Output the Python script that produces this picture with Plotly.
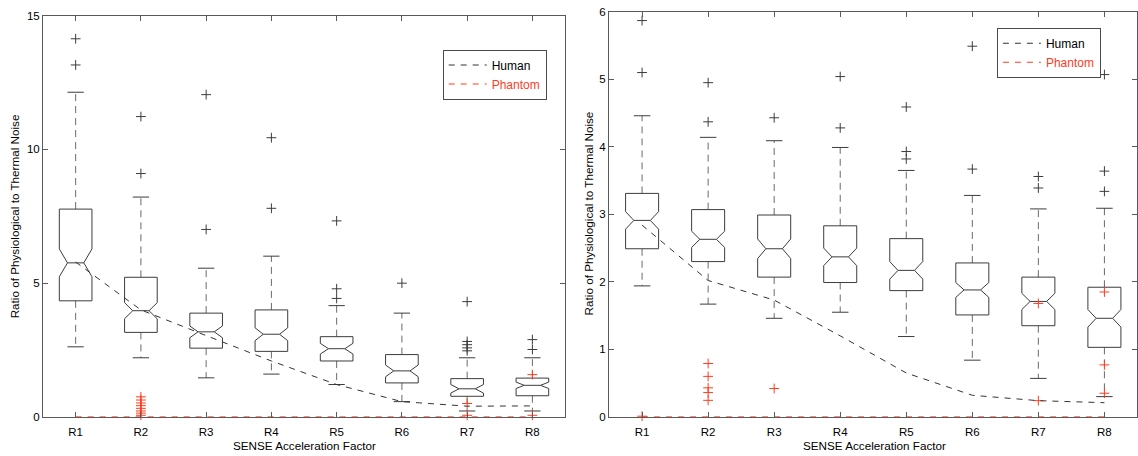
import plotly.graph_objects as go

categories = ["R1", "R2", "R3", "R4", "R5", "R6", "R7", "R8"]

# ---- Panel A: full range ----
a_lower = [2.62, 2.21, 1.46, 1.60, 1.21, 0.57, 0.22, 0.22]
a_q1 = [4.34, 3.16, 2.57, 2.45, 2.09, 1.27, 0.77, 0.79]
a_median = [5.76, 3.97, 3.18, 3.09, 2.55, 1.72, 1.05, 1.18]
a_q3 = [7.77, 5.22, 3.88, 4.00, 3.00, 2.33, 1.43, 1.45]
a_upper = [12.14, 8.22, 5.56, 6.01, 4.16, 3.88, 2.21, 2.21]
a_notch = [0.52, 0.30, 0.22, 0.24, 0.20, 0.22, 0.16, 0.12]
a_out_cat = ["R1", "R1", "R2", "R2", "R3", "R3", "R4", "R4", "R5", "R5", "R5", "R6",
             "R7", "R7", "R7", "R7", "R7", "R8", "R8"]
a_out_val = [14.14, 13.16, 11.23, 9.10, 12.05, 7.01, 10.44, 7.80, 7.33, 4.79, 4.43, 5.00,
             4.31, 2.82, 2.70, 2.58, 2.47, 2.89, 2.52]
a_ph_out_cat = ["R2", "R2", "R2", "R2", "R2", "R2", "R2", "R2", "R7", "R7", "R8", "R8"]
a_ph_out_val = [0.75, 0.63, 0.52, 0.42, 0.32, 0.22, 0.14, 0.06, 0.50, 0.06, 1.58, 0.06]
a_human = [5.79, 4.00, 3.04, 2.09, 1.21, 0.57, 0.40, 0.41]
a_phantom = [0, 0, 0, 0, 0, 0, 0, 0]

# ---- Panel B: zoomed range ----
b_lower = [1.94, 1.67, 1.46, 1.55, 1.19, 0.84, 0.57, 0.30]
b_q1 = [2.49, 2.30, 2.07, 1.99, 1.87, 1.51, 1.35, 1.03]
b_median = [2.91, 2.63, 2.49, 2.37, 2.17, 1.88, 1.71, 1.46]
b_q3 = [3.31, 3.07, 2.99, 2.83, 2.64, 2.28, 2.07, 1.92]
b_upper = [4.46, 4.14, 4.09, 3.99, 3.65, 3.28, 3.08, 3.09]
b_notch = [0.13, 0.12, 0.145, 0.13, 0.13, 0.11, 0.12, 0.13]
b_out_cat = ["R1", "R1", "R2", "R2", "R3", "R4", "R4", "R5", "R5", "R5", "R6", "R6",
             "R7", "R7", "R8", "R8", "R8"]
b_out_val = [5.87, 5.10, 4.95, 4.37, 4.43, 5.04, 4.28, 4.59, 3.93, 3.82, 5.49, 3.67,
             3.56, 3.39, 5.07, 3.64, 3.34]
b_ph_out_cat = ["R1", "R2", "R2", "R2", "R2", "R2", "R3", "R7", "R7", "R8", "R8", "R8"]
b_ph_out_val = [0.01, 0.79, 0.60, 0.43, 0.36, 0.245, 0.42, 1.68, 0.24, 1.85, 0.77, 0.35]
b_human = [2.84, 2.02, 1.73, 1.20, 0.65, 0.32, 0.24, 0.21]
b_phantom = [0, 0, 0, 0, 0, 0, 0, 0]

BOX_HALF = 0.25          # half box width in category units
BOX_COLOR = "#3c3c3c"
WHISKER_COLOR = "#6a6a6a"
RED = "#ff3b1f"
FONT = "Liberation Sans, Arial, Helvetica, sans-serif"

fig = go.Figure()


def add_panel(xref, yref, lower, q1, med, q3, upper, notch, out_cat, out_val,
              ph_cat, ph_val, human, phantom, legend_name):
    pos = {c: i + 1 for i, c in enumerate(categories)}
    bx, by, mx, my, wx, wy, cx, cy = [], [], [], [], [], [], [], []
    for i in range(len(categories)):
        x = i + 1
        w = BOX_HALF
        h = w / 2
        # notched box outline, narrowing to half width at the median
        bx += [x - w, x - w, x - h, x - w, x - w, x + w, x + w, x + h, x + w, x + w, x - w, None]
        by += [q1[i], med[i] - notch[i], med[i], med[i] + notch[i], q3[i],
               q3[i], med[i] + notch[i], med[i], med[i] - notch[i], q1[i], q1[i], None]
        mx += [x - h, x + h, None]
        my += [med[i], med[i], None]
        wx += [x, x, None, x, x, None]
        wy += [q3[i], upper[i], None, q1[i], lower[i], None]
        cx += [x - h, x + h, None, x - h, x + h, None]
        cy += [upper[i], upper[i], None, lower[i], lower[i], None]

    common = dict(xaxis=xref, yaxis=yref, showlegend=False, hoverinfo="skip")
    fig.add_trace(go.Scatter(x=wx, y=wy, mode="lines",
                             line=dict(color=WHISKER_COLOR, width=1, dash="7px,5px"), **common))
    fig.add_trace(go.Scatter(x=cx, y=cy, mode="lines",
                             line=dict(color=BOX_COLOR, width=1), **common))
    fig.add_trace(go.Scatter(x=bx, y=by, mode="lines",
                             line=dict(color=BOX_COLOR, width=1), **common))
    fig.add_trace(go.Scatter(x=mx, y=my, mode="lines",
                             line=dict(color=BOX_COLOR, width=1), **common))
    fig.add_trace(go.Scatter(x=[pos[c] for c in out_cat], y=out_val, mode="markers",
                             marker=dict(symbol="cross-thin", size=7,
                                         line=dict(color=BOX_COLOR, width=1)),
                             cliponaxis=False, **common))
    fig.add_trace(go.Scatter(x=[pos[c] for c in ph_cat], y=ph_val, mode="markers",
                             marker=dict(symbol="cross-thin", size=7,
                                         line=dict(color=RED, width=1)),
                             cliponaxis=False, **common))
    xs = list(range(1, len(categories) + 1))
    fig.add_trace(go.Scatter(x=xs, y=human, mode="lines", name="Human",
                             line=dict(color="#333333", width=1, dash="6px,6px"),
                             xaxis=xref, yaxis=yref, legend=legend_name, hoverinfo="skip"))
    fig.add_trace(go.Scatter(x=xs, y=phantom, mode="lines",
                             name="<span style='color:%s'>Phantom</span>" % RED,
                             line=dict(color=RED, width=1, dash="6px,6px"),
                             xaxis=xref, yaxis=yref, legend=legend_name, hoverinfo="skip"))


add_panel("x", "y", a_lower, a_q1, a_median, a_q3, a_upper, a_notch,
          a_out_cat, a_out_val, a_ph_out_cat, a_ph_out_val, a_human, a_phantom, "legend")
add_panel("x2", "y2", b_lower, b_q1, b_median, b_q3, b_upper, b_notch,
          b_out_cat, b_out_val, b_ph_out_cat, b_ph_out_val, b_human, b_phantom, "legend2")

axis_common = dict(showline=True, linecolor="#5a5a5a", linewidth=1, mirror="ticks",
                   ticks="inside", ticklen=5, tickcolor="#5a5a5a", showgrid=False,
                   zeroline=False, tickfont=dict(family=FONT, size=11.5, color="#000"))
xticks = dict(tickmode="array", tickvals=list(range(1, 9)), ticktext=categories,
              range=[0.5, 8.5], ticklabelstandoff=4)
legend_common = dict(xanchor="left", yanchor="top", bordercolor="#4a4a4a", borderwidth=1,
                     bgcolor="white", font=dict(family=FONT, size=12, color="#000"),
                     itemwidth=38, tracegroupgap=0)
title_font = dict(family=FONT, size=11.7, color="#000")

fig.update_layout(
    width=1138, height=456,
    margin=dict(l=0, r=0, t=0, b=0),
    paper_bgcolor="white", plot_bgcolor="white",
    font=dict(family=FONT, size=11, color="#000"),
    xaxis=dict(domain=[0.0378, 0.4965], anchor="y", **xticks, **axis_common),
    yaxis=dict(domain=[0.0746, 0.978], anchor="x", range=[0, 15],
               tickvals=[0, 5, 10, 15], **axis_common),
    xaxis2=dict(domain=[0.5352, 0.9995], anchor="y2", **xticks, **axis_common),
    yaxis2=dict(domain=[0.0746, 0.987], anchor="x2", range=[0, 6],
                tickvals=[0, 1, 2, 3, 4, 5, 6], **axis_common),
    legend=dict(x=0.389, y=0.902, **legend_common),
    legend2=dict(x=0.876, y=0.951, **legend_common),
    annotations=[
        dict(text="Ratio of Physiological to Thermal Noise", xref="paper", yref="paper",
             x=14 / 1138, y=(456 - 216) / 456, xanchor="center", yanchor="middle",
             textangle=-90, showarrow=False, font=title_font),
        dict(text="Ratio of Physiological to Thermal Noise", xref="paper", yref="paper",
             x=588 / 1138, y=(456 - 213) / 456, xanchor="center", yanchor="middle",
             textangle=-90, showarrow=False, font=title_font),
        dict(text="SENSE Acceleration Factor", xref="paper", yref="paper",
             x=304 / 1138, y=(456 - 451) / 456, xanchor="center", yanchor="middle",
             showarrow=False, font=title_font),
        dict(text="SENSE Acceleration Factor", xref="paper", yref="paper",
             x=874 / 1138, y=(456 - 451) / 456, xanchor="center", yanchor="middle",
             showarrow=False, font=title_font),
    ],
)

fig.write_html("out.html")
